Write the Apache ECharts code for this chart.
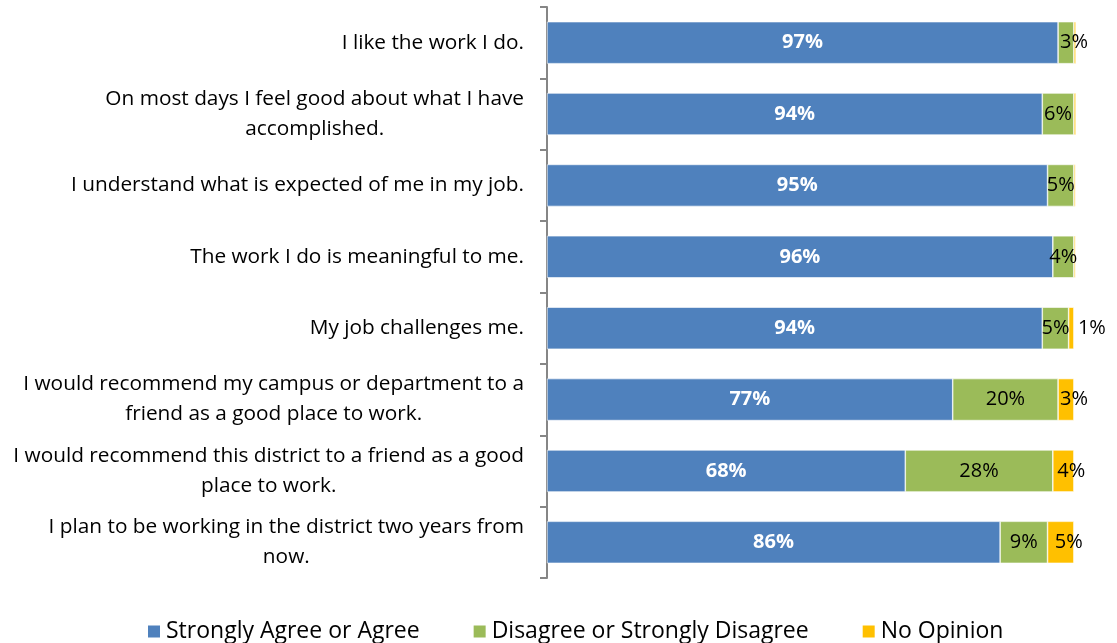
<!DOCTYPE html>
<html>
<head>
<meta charset="utf-8">
<script src="https://cdn.jsdelivr.net/npm/echarts@6/dist/echarts.min.js"></script>
<style>
  html, body { margin: 0; padding: 0; background: #fff; }
  #chart { width: 1117px; height: 643px; }
</style>
</head>
<body>
<div id="chart"></div>
<script>
// Survey statements (line breaks mark where each label wraps)
const categories = [
  'I like the work I do.',
  'On most days I feel good about what I have\naccomplished.',
  'I understand what is expected of me in my job.',
  'The work I do is meaningful to me.',
  'My job challenges me.',
  'I would recommend my campus or department to a\nfriend as a good place to work.',
  'I would recommend this district to a friend as a good\nplace to work.',
  'I plan to be working in the district two years from\nnow.'
];
const seriesNames = ['Strongly Agree or Agree', 'Disagree or Strongly Disagree', 'No Opinion'];
const agree    = [97, 94, 95, 96, 94, 77, 68, 86];
const disagree = [3, 6, 5, 4, 5, 20, 28, 9];
const noOpinion = [0.4, 0.4, 0.3, 0.3, 1, 3, 4, 5];

const FONT = 'Open Sans';
const colors = ['#4F81BD', '#9BBB59', '#FFC000'];

const chart = echarts.init(document.getElementById('chart'));

// small "No Opinion" slices: hide labels under 1%, put 1% outside the bar
function yellowItems(vals) {
  return vals.map(v => ({
    value: v,
    label: v < 2
      ? { show: v >= 1, position: 'right' }
      : { show: true, position: 'inside', offset: [8, 0] }
  }));
}

// a green slice followed by an almost empty one gets its label nudged right
function greenItems(vals, next) {
  return vals.map((v, i) => ({
    value: v,
    label: v <= 3 && next[i] < 1 ? { offset: [8, 0] } : {}
  }));
}

const common = {
  type: 'bar',
  stack: 'total',
  barWidth: 42,
  itemStyle: { borderColor: '#ffffff', borderWidth: 0.6 }
};

chart.setOption({
  animation: false,
  textStyle: { fontFamily: FONT },
  grid: { left: 547, right: 41, top: 7, bottom: 65, containLabel: false },
  legend: {
    bottom: -5,
    left: 141,
    itemWidth: 14,
    itemHeight: 14,
    itemGap: 52,
    icon: 'rect',
    textStyle: { fontFamily: FONT, fontSize: 23, color: '#000' },
    data: seriesNames
  },
  xAxis: {
    type: 'value',
    min: 0,
    max: 100.4,
    show: false
  },
  yAxis: {
    type: 'category',
    inverse: true,
    data: categories,
    axisLine: { show: true, lineStyle: { color: '#868686', width: 2 } },
    axisTick: { show: true, length: 7, lineStyle: { color: '#868686', width: 2 } },
    axisLabel: {
      margin: 23,
      align: 'right',
      // each wrapped line is centred within the right-aligned block
      formatter: v => v.split('\n').map(s => '{c|' + s + '}').join('\n'),
      rich: {
        c: {
          align: 'center',
          fontFamily: FONT,
          fontSize: 20.8,
          color: '#000',
          lineHeight: 30
        }
      }
    },
    splitLine: { show: false }
  },
  series: [
    Object.assign({}, common, {
      name: seriesNames[0],
      data: agree,
      itemStyle: Object.assign({}, common.itemStyle, { color: colors[0] }),
      label: {
        show: true, position: 'inside', formatter: '{c}%',
        color: '#fff', fontWeight: 'bold', fontSize: 20, fontFamily: FONT
      }
    }),
    Object.assign({}, common, {
      name: seriesNames[1],
      data: greenItems(disagree, noOpinion),
      itemStyle: Object.assign({}, common.itemStyle, { color: colors[1] }),
      label: {
        show: true, position: 'inside', formatter: '{c}%',
        color: '#000', fontSize: 20, fontFamily: FONT
      }
    }),
    Object.assign({}, common, {
      name: seriesNames[2],
      data: yellowItems(noOpinion),
      itemStyle: Object.assign({}, common.itemStyle, { color: colors[2] }),
      label: {
        formatter: '{c}%', distance: 4,
        color: '#000', fontSize: 20, fontFamily: FONT
      }
    })
  ]
});
</script>
</body>
</html>
